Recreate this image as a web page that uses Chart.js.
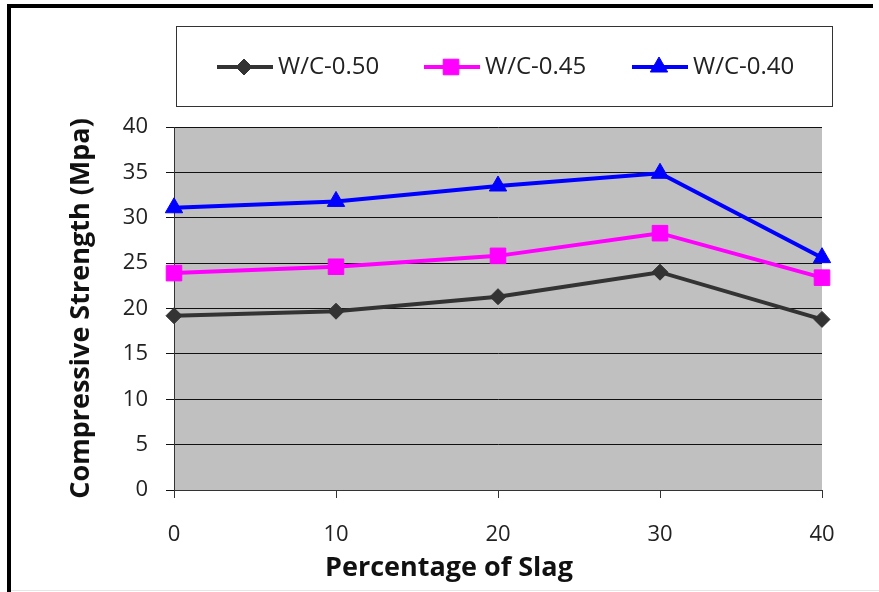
<!DOCTYPE html>
<html>
<head>
<meta charset="utf-8">
<script src="https://cdn.jsdelivr.net/npm/chart.js@4/dist/chart.umd.min.js"></script>
<style>
  body { margin: 0; background: #fff; }
  canvas { display: block; }
</style>
</head>
<body>
<canvas id="slagChart" width="879" height="592"></canvas>
<script>
// values
const slagPercent = [0, 10, 20, 30, 40];
const wc050 = [19.2, 19.7, 21.3, 24.0, 18.8];
const wc045 = [23.9, 24.6, 25.8, 28.3, 23.4];
const wc040 = [31.1, 31.8, 33.5, 34.9, 25.6];
const seriesNames = ["W/C-0.50", "W/C-0.45", "W/C-0.40"];
const xTitle = "Percentage of Slag";

const toPoints = (vals) => vals.map((v, i) => ({ x: slagPercent[i], y: v }));

// gray plot area + outer frame
const backdrop = {
  id: "backdrop",
  beforeDraw(chart) {
    const { ctx, chartArea: a } = chart;
    ctx.save();
    ctx.fillStyle = "#c0c0c0";
    ctx.fillRect(a.left, a.top, a.right - a.left, a.bottom - a.top);
    ctx.fillStyle = "#000";
    ctx.fillRect(7, 4, 866, 4);
    ctx.fillRect(7, 4, 4, 588);
    ctx.fillStyle = "#e6e6e6";
    ctx.fillRect(11, 590, 868, 1);
    ctx.restore();
  }
};

// legend in a box, line + marker like the original; x title sits left of centre
const boxLegend = {
  id: "boxLegend",
  afterDraw(chart) {
    const { ctx } = chart;
    ctx.save();
    ctx.strokeStyle = "#333";
    ctx.lineWidth = 1;
    ctx.strokeRect(176.5, 26.5, 656, 80);
    const starts = [217, 424, 632];
    const y = 67;
    chart.data.datasets.forEach((ds, i) => {
      const x0 = starts[i];
      ctx.strokeStyle = ds.borderColor;
      ctx.lineWidth = 4;
      ctx.beginPath();
      ctx.moveTo(x0, y);
      ctx.lineTo(x0 + 56, y);
      ctx.stroke();
      ctx.fillStyle = ds.pointBackgroundColor;
      ctx.strokeStyle = ds.borderColor;
      ctx.lineWidth = 1;
      Chart.helpers.drawPoint(ctx, { pointStyle: ds.pointStyle, radius: ds.pointRadius, borderWidth: 1 }, x0 + 27, y);
      ctx.fillStyle = "#222";
      ctx.font = "24px 'Open Sans'";
      ctx.textAlign = "left";
      ctx.textBaseline = "middle";
      ctx.fillText(ds.label, x0 + 61, y);
    });

    ctx.fillStyle = "#111";
    ctx.font = "bold 27px 'Open Sans'";
    ctx.textAlign = "center";
    ctx.textBaseline = "alphabetic";
    ctx.fillText(xTitle, 449, 576);
    ctx.restore();
  }
};

new Chart(document.getElementById("slagChart"), {
  type: "line",
  data: {
    datasets: [
      {
        label: seriesNames[0],
        data: toPoints(wc050),
        borderColor: "#333333",
        pointBackgroundColor: "#333333",
        pointStyle: "rectRot",
        pointRadius: 8
      },
      {
        label: seriesNames[1],
        data: toPoints(wc045),
        borderColor: "#ff00ff",
        pointBackgroundColor: "#ff00ff",
        pointStyle: "rect",
        pointRadius: 11
      },
      {
        label: seriesNames[2],
        data: toPoints(wc040),
        borderColor: "#0000ff",
        pointBackgroundColor: "#0000ff",
        pointStyle: "triangle",
        pointRadius: 10
      }
    ]
  },
  options: {
    responsive: false,
    animation: false,
    clip: false,
    elements: {
      line: { borderWidth: 4, tension: 0 },
      point: { borderWidth: 1 }
    },
    layout: { padding: { top: 127, right: 57, bottom: 0, left: 40 } },
    plugins: {
      legend: { display: false },
      tooltip: { enabled: false }
    },
    scales: {
      x: {
        type: "linear",
        min: 0,
        max: 40,
        afterFit(scale) { scale.height = 102; },
        ticks: { stepSize: 10, padding: 24, color: "#222", font: { family: "'Open Sans'", size: 22 } },
        grid: { drawOnChartArea: false, tickLength: 8, color: "#333" },
        border: { color: "#333", width: 1 },
        title: { display: false }
      },
      y: {
        min: 0,
        max: 40,
        afterFit(scale) { scale.width = 134; },
        ticks: { stepSize: 5, padding: 18, color: "#222", font: { family: "'Open Sans'", size: 22 } },
        grid: { color: "#111", tickLength: 8 },
        border: { color: "#333", width: 1 },
        title: {
          display: true,
          text: "Compressive Strength (Mpa)",
          color: "#111",
          font: { family: "'Open Sans'", size: 27, weight: "bold" },
          padding: { top: 25, bottom: 8 }
        }
      }
    }
  },
  plugins: [backdrop, boxLegend]
});
</script>
</body>
</html>
